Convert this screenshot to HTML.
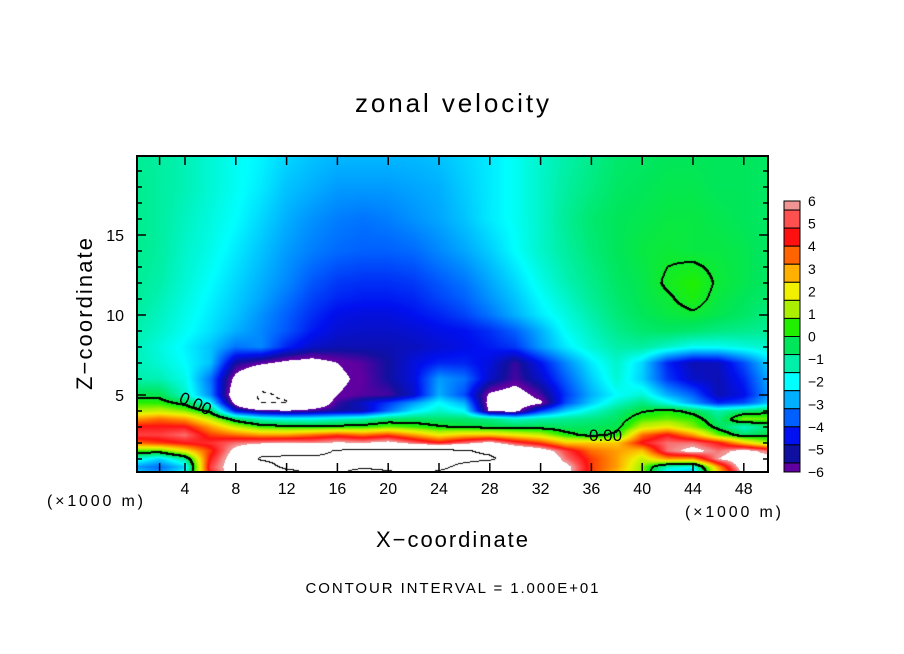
<!DOCTYPE html>
<html><head><meta charset="utf-8"><title>zonal velocity</title>
<style>
html,body{margin:0;padding:0;background:#fff;width:904px;height:654px;overflow:hidden}
#wrap{position:relative;width:904px;height:654px}
canvas{position:absolute;left:137px;top:156px}
svg{position:absolute;left:0;top:0}
text{font-family:"Liberation Sans",sans-serif;fill:#000}
</style></head>
<body>
<div id="wrap">
<canvas id="field" width="631" height="316"></canvas>
<svg id="svg" width="904" height="654">
<text x="452" y="112" font-size="26" text-anchor="middle" textLength="194">zonal velocity</text>
<text x="452" y="547" font-size="22" text-anchor="middle" textLength="152">X−coordinate</text>
<text transform="translate(92,314) rotate(-90)" font-size="22" text-anchor="middle" textLength="152">Z−coordinate</text>
<text x="47" y="506" font-size="16" textLength="96">(×1000 m)</text>
<text x="685" y="517" font-size="16" textLength="96">(×1000 m)</text>
<text x="452" y="593" font-size="15" text-anchor="middle" textLength="293">CONTOUR INTERVAL = 1.000E+01</text>
<text transform="translate(178,402) rotate(24)" font-size="17">0.00</text>
<text x="589" y="441" font-size="17">0.00</text>
<g id="axes"></g>
<g id="cbar"></g>
</svg>
</div>
<script>
// ---- data ----
const xCoords = [0,2,4,6,8,10,12,14,16,18,20,22,24,26,28,30,32,34,36,38,40,42,44,46,48,50];
const zCoords = [0,0.5,1,1.5,2,2.5,3,3.5,4,4.5,5,6,7,8,9,10,11,12,14,16,18,20];
const uZ0   = [-2,-3,-1.5,4.5,7,8,9,10.3,10.2,9,9.5,10.2,9.5,9,8,7.5,7,6.5,4,2.5,1,-2.5,-3,2,6,6];
const uZ0_5 = [-3,-3.5,-2.5,5,7,9,10.5,10.5,10.5,10.3,10.5,10.5,10.5,9.5,8.5,8,7,6.5,4,3,1,-1.5,-2,3,7,6.5];
const uZ1   = [-1.5,-2.5,-1,4.5,7,10.3,10.5,10.5,10.5,10.5,10.6,10.6,10.5,10.6,10.4,9,8,5.5,4,3,1.5,3,3,6,7,6.5];
const uZ1_5 = [0.5,0.5,2,4,6.5,9,9,9,10.2,10.5,10.5,10.3,10.5,10.2,9.5,8,7,5,3.5,3,2.5,5.5,6.5,5.5,6.5,5.5];
const uZ2   = [3.5,4,4.5,4.8,5.5,5.8,6,5.8,6.2,6,6.5,5.5,4.5,5.5,6.5,5,4,2.5,2.5,2.5,4.5,5.5,5.5,4.5,2.5,1];
const uZ2_5 = [5,5,5.5,4,3.5,3,3,3.5,4,3.5,4,3,2,2.5,2.5,2,1.5,0.3,-0.3,0.2,3.5,4.5,3,0.8,-0.5,-0.2];
const uZ3   = [4.5,4.5,4.5,3,1.5,0.5,0.3,0.2,0.3,0.4,0.8,0.5,0.1,-0.1,-0.2,-0.3,-0.3,-0.5,-0.4,-0.3,1.5,2,1,-0.3,-1.5,-0.6];
const uZ3_5 = [3,3.5,3,1.5,-0.5,-1.5,-1.8,-1.8,-1.5,-1.2,-0.6,-0.5,-0.6,-0.6,-0.8,-1.5,-1.2,-1,-0.8,-0.5,0.6,0.8,0.5,-0.8,1,0.8];
const uZ4   = [1.2,1.5,1,-0.3,-4.5,-5.5,-5.8,-5.5,-5.2,-5,-3.5,-2.2,-1.5,-2,-6.2,-6.4,-4,-2.5,-1.6,-0.8,-0.1,0.3,-0.3,-1.2,-0.6,-0.3];
const uZ4_5 = [0.5,0.4,-0.3,-2,-6.5,-10.3,-10.2,-7.5,-5.5,-4.8,-4,-3,-2,-2.8,-6.5,-6.8,-6.2,-3.8,-2.5,-1.5,-0.8,-1.8,-3,-4.2,-3.8,-2.6];
const uZ5   = [-0.3,-0.3,-1.5,-3.2,-7,-10.5,-9.5,-7.5,-6,-5.7,-5.6,-4.8,-2.8,-3.8,-6.2,-6.6,-5.6,-4,-2.8,-2,-1.6,-2.8,-3.6,-5,-4.5,-3];
const uZ6   = [-1.2,-1.3,-1.8,-3.4,-6.4,-8,-8,-8,-6.2,-5.8,-5.2,-4.6,-3,-3.4,-4.8,-5.6,-4.8,-3.6,-2.5,-1.6,-2.5,-4,-4.8,-5,-4.2,-2.8];
const uZ7   = [-1.3,-1.6,-2,-2.6,-5.2,-5.8,-6.3,-6.5,-6,-5.7,-5.2,-4.6,-4.2,-4.2,-4.6,-5.5,-4.4,-3.2,-2.2,-1.5,-2.4,-4.2,-5,-4.9,-3.8,-2.4];
const uZ8   = [-1.3,-1.7,-2.1,-2.6,-3.4,-3.2,-4.2,-4.8,-5,-5,-5,-4.9,-4.7,-4.5,-4.3,-4,-3,-2.2,-1.6,-1.2,-1.1,-1.5,-1.9,-1.9,-1.7,-1.5];
const uZ9   = [-1.2,-1.5,-1.9,-2.3,-2.8,-3.2,-3.7,-4.3,-4.7,-4.8,-4.8,-4.7,-4.5,-4.4,-4.1,-3.6,-2.8,-1.9,-1.4,-0.9,-0.6,-0.5,-0.6,-0.8,-0.9,-1];
const uZ10  = [-1.1,-1.4,-1.8,-2.2,-2.6,-3.1,-3.6,-4.1,-4.5,-4.6,-4.6,-4.4,-4.2,-3.9,-3.4,-2.8,-2.2,-1.7,-1.2,-0.7,-0.4,-0.2,-0.1,-0.3,-0.5,-0.8];
const uZ11  = [-1,-1.3,-1.7,-2.1,-2.5,-2.9,-3.4,-3.9,-4.2,-4.3,-4.3,-4.2,-3.9,-3.6,-3.1,-2.6,-2,-1.5,-1,-0.6,-0.3,-0.1,0.25,-0.2,-0.4,-0.6];
const uZ12  = [-1,-1.2,-1.6,-2,-2.4,-2.8,-3.2,-3.7,-4,-4.1,-4.1,-4,-3.7,-3.4,-2.9,-2.4,-1.8,-1.3,-0.9,-0.5,-0.3,0.1,0.4,-0.1,-0.3,-0.5];
const uZ14  = [-0.9,-1.1,-1.5,-1.8,-2.2,-2.6,-3,-3.3,-3.5,-3.6,-3.6,-3.5,-3.2,-2.9,-2.5,-2,-1.5,-1.1,-0.7,-0.4,-0.2,-0.1,-0.2,-0.2,-0.3,-0.5];
const uZ16  = [-0.9,-1.1,-1.4,-1.7,-2,-2.4,-2.8,-3.1,-3.3,-3.4,-3.3,-3.1,-2.9,-2.6,-2.2,-1.9,-1.5,-1,-0.6,-0.4,-0.3,-0.2,-0.2,-0.3,-0.4,-0.5];
const uZ18  = [-0.9,-1.1,-1.3,-1.6,-1.9,-2.2,-2.6,-2.8,-3,-3,-3,-2.9,-2.8,-2.5,-2.2,-1.9,-1.5,-1.1,-0.8,-0.5,-0.4,-0.3,-0.3,-0.4,-0.4,-0.5];
const uZ20  = [-1,-1.1,-1.3,-1.6,-1.9,-2.1,-2.4,-2.6,-2.7,-2.7,-2.7,-2.7,-2.6,-2.4,-2.2,-1.9,-1.5,-1.2,-0.9,-0.6,-0.5,-0.4,-0.4,-0.4,-0.4,-0.5];
const fieldRows = [uZ0,uZ0_5,uZ1,uZ1_5,uZ2,uZ2_5,uZ3,uZ3_5,uZ4,uZ4_5,uZ5,uZ6,uZ7,uZ8,uZ9,uZ10,uZ11,uZ12,uZ14,uZ16,uZ18,uZ20];
const levelEdges = [6,5.6,4.8,4.0,3.2,2.4,1.6,0.8,0,-0.8,-1.6,-2.4,-3.2,-4.0,-4.8,-5.6,-6];
const levelColors = ["#f09494","#ff5050","#ff1010","#ff6400","#ffb000","#f0f000","#aaf000","#20f000","#00e65a","#00f0aa","#00ffff","#00b0ff","#0060ff","#0010f0","#1010a0","#6000a0"];
const cbarLabels = ["6","5","4","3","2","1","0","-1","-2","-3","-4","-5","-6"];
const cbarLabelValues = [6,5,4,3,2,1,0,-1,-2,-3,-4,-5,-6];
const xTickValues = [2,4,8,12,16,20,24,28,32,36,40,44,48];
const xTickLabels = ["","4","8","12","16","20","24","28","32","36","40","44","48"];
const zTickLabels = ["5","10","15"];
const zTickLabelValues = [5,10,15];

// ---- axis functions ----
const PL=137, PT=156, PW=631, PH=316;
const xPx = x => 134.2 + 12.7*x;
const zPx = z => 475 - 16*z;
const xOf = px => (px-134.2)/12.7;
const zOf = py => (475-py)/16;
const cbY = v => 201 + (6-v)*(271/12);

function hex(c){return [parseInt(c.substr(1,2),16),parseInt(c.substr(3,2),16),parseInt(c.substr(5,2),16)];}
const anchorVals = levelColors.map((c,i)=>(levelEdges[i]+levelEdges[i+1])/2);
const anchorRGB = levelColors.map(hex);
function colorOf(v){
  if(v>6||v<-6) return [255,255,255];
  if(v>=anchorVals[0]) return anchorRGB[0];
  const n=anchorVals.length;
  if(v<=anchorVals[n-1]) return anchorRGB[n-1];
  for(let k=0;k<n-1;k++){
    const a=anchorVals[k], b=anchorVals[k+1];
    if(v<=a && v>=b){const t=(a-v)/(a-b);const A=anchorRGB[k],B=anchorRGB[k+1];
      return [A[0]+(B[0]-A[0])*t,A[1]+(B[1]-A[1])*t,A[2]+(B[2]-A[2])*t];}
  }
  return [255,255,255];
}
function sample(x,z){
  const dx=xCoords[1]-xCoords[0];
  let ci=Math.floor((x-xCoords[0])/dx); ci=Math.max(0,Math.min(xCoords.length-2,ci));
  let tx=(x-xCoords[ci])/dx; tx=Math.max(0,Math.min(1,tx));
  let ri=0; while(ri<zCoords.length-2 && z>zCoords[ri+1]) ri++;
  let tz=(z-zCoords[ri])/(zCoords[ri+1]-zCoords[ri]); tz=Math.max(0,Math.min(1,tz));
  const a=fieldRows[ri][ci], b=fieldRows[ri][ci+1], c=fieldRows[ri+1][ci], d=fieldRows[ri+1][ci+1];
  return (a*(1-tx)+b*tx)*(1-tz)+(c*(1-tx)+d*tx)*tz;
}

// ---- render field ----
const cv=document.getElementById('field'), ctx=cv.getContext('2d');
const img=ctx.createImageData(PW,PH), V=new Float32Array(PW*PH);
for(let j=0;j<PH;j++)for(let i=0;i<PW;i++){V[j*PW+i]=sample(xOf(PL+i+0.5),zOf(PT+j+0.5));}
for(let p=0;p<PW*PH;p++){const c=colorOf(V[p]);img.data[p*4]=c[0];img.data[p*4+1]=c[1];img.data[p*4+2]=c[2];img.data[p*4+3]=255;}
function mark(p){img.data[p*4]=0;img.data[p*4+1]=0;img.data[p*4+2]=0;}
function contour(L,thick,dashed){
  for(let j=0;j<PH-1;j++)for(let i=0;i<PW-1;i++){
    const p=j*PW+i, s=V[p]-L;
    if(s*(V[p+1]-L)<=0&&s!==V[p+1]-L || s*(V[p+PW]-L)<=0&&s!==V[p+PW]-L){
      if(dashed && Math.floor((i+j)/5)%2) continue;
      mark(p); if(thick){mark(p+1);mark(p+PW);}
    }
  }
}
contour(0,true,false); contour(10,false,false); contour(-10,false,true);
ctx.putImageData(img,0,0);

// ---- axes ----
const NS='http://www.w3.org/2000/svg';
const axes=document.getElementById('axes'), cbar=document.getElementById('cbar');
function el(tag,attrs,parent){const e=document.createElementNS(NS,tag);for(const k in attrs)e.setAttribute(k,attrs[k]);parent.appendChild(e);return e;}
let frame=el('rect',{x:PL,y:PT,width:PW,height:PH,fill:'none',stroke:'#000','stroke-width':2},axes);


xTickValues.forEach((v,i)=>{
  const X=xPx(v);
  const t1=el('line',{x1:X,x2:X,y1:PT+PH,y2:PT+PH-9,stroke:'#000','stroke-width':1.5},axes);
  
  
  const t2=el('line',{x1:X,x2:X,y1:PT,y2:PT+9,stroke:'#000','stroke-width':1.5},axes);
  
  
  if(xTickLabels[i]){
    const t=el('text',{x:X,y:494,'font-size':16,'text-anchor':'middle'},axes);t.textContent=xTickLabels[i];
    
    
  }
});
for(let z=1;z<=19;z++){
  const Y=zPx(z), len=(z%5===0)?9:5;
  const a=el('line',{x1:PL,x2:PL+len,y1:Y,y2:Y,stroke:'#000','stroke-width':1.5},axes);
  
  
  const b=el('line',{x1:PL+PW,x2:PL+PW-len,y1:Y,y2:Y,stroke:'#000','stroke-width':1.5},axes);
  
  
}
zTickLabelValues.forEach((v,i)=>{
  const t=el('text',{x:124,y:zPx(v)+6,'font-size':16,'text-anchor':'end'},axes);t.textContent=zTickLabels[i];
  
  
});
// ---- colorbar ----
levelColors.forEach((c,i)=>{
  const y1=cbY(levelEdges[i]), y2=cbY(levelEdges[i+1]);
  const r=el('rect',{x:784,y:y1,width:16,height:y2-y1,fill:c,stroke:'#000','stroke-width':1},cbar);
  
  
});
cbarLabels.forEach((s,i)=>{
  const t=el('text',{x:808,y:cbY(cbarLabelValues[i])+5,'font-size':14},cbar);t.textContent=s.replace('-','−');
  
  
});
</script>
</body></html>
